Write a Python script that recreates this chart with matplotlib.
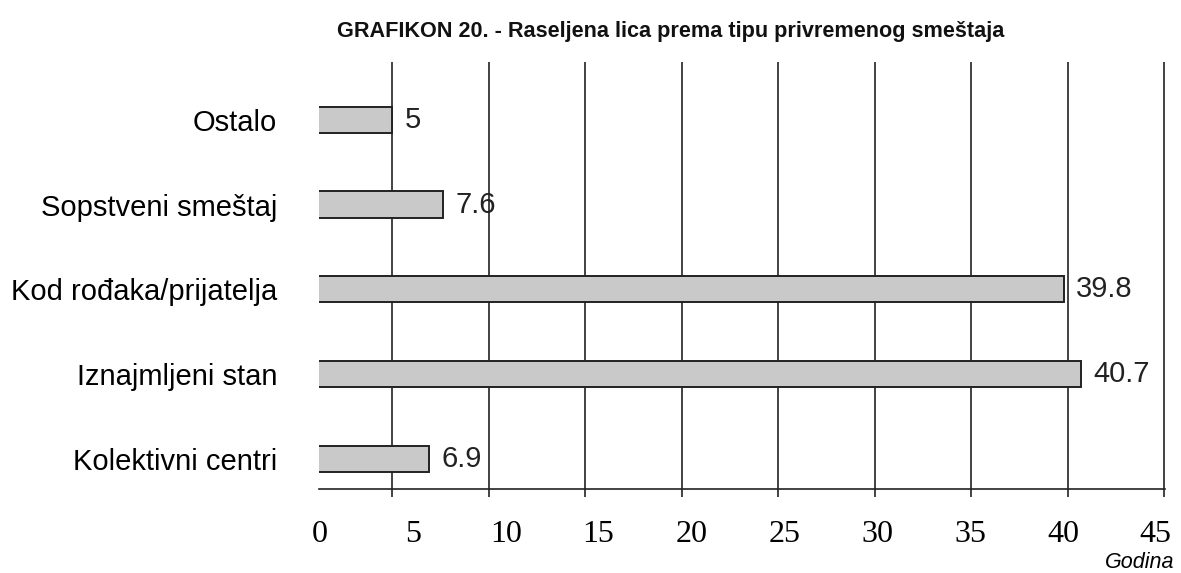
import numpy as np
import matplotlib
matplotlib.use("Agg")
import matplotlib.pyplot as plt

# categories bottom -> top
categories = ["Kolektivni centri", "Iznajmljeni stan", "Kod rođaka/prijatelja",
              "Sopstveni smeštaj", "Ostalo"]
values = [6.9, 40.7, 39.8, 7.6, 5]
value_labels = ["6.9", "40.7", "39.8", "7.6", "5"]
grid_ticks = [5, 10, 15, 20, 25, 30, 35, 40, 45]
axis_labels = [0, 5, 10, 15, 20, 25, 30, 35, 40, 45]

sans = ["Liberation Sans", "DejaVu Sans"]
serif = ["Liberation Serif", "DejaVu Serif"]

fig = plt.figure(figsize=(11.81, 5.73), dpi=100)
ax = fig.add_axes([319/1181, 1-489/573, (1165-319)/1181, (489-62)/573])

y = np.arange(len(categories))
ax.barh(y, values, height=0.31, color="#c9c9c9", edgecolor="#222222", linewidth=1.4,
        zorder=3)
for yi, v, s in zip(y, values, value_labels):
    ax.text(v + 0.65, yi, s, va="center", ha="left", fontsize=21,
            family=sans, color="#222222", zorder=4)

ax.set_xlim(1.19, 45.05)
ax.set_ylim(-0.354, 4.68)
ax.set_xticks(grid_ticks)
ax.set_xticklabels([])
ax.xaxis.grid(True, color="#222222", linewidth=1.2, zorder=1)
ax.tick_params(axis="x", length=6, width=1.2, color="#222222", direction="out")
ax.set_yticks(y)
ax.set_yticklabels(categories, fontsize=21, family=sans)
ax.tick_params(axis="y", length=0, pad=30)
for sp in ["top", "left", "right"]:
    ax.spines[sp].set_visible(False)
ax.spines["bottom"].set_color("#222222")
ax.spines["bottom"].set_linewidth(1.2)

# the scanned scale labels sit slightly off the gridlines
sec = ax.secondary_xaxis("bottom", functions=(lambda x: (x - 1.24) / 0.963,
                                              lambda u: 1.24 + 0.963 * u))
sec.set_xticks(axis_labels)
sec.set_xticklabels([str(a) for a in axis_labels], fontsize=23, family=serif)
sec.tick_params(length=0, pad=22)
sec.spines["bottom"].set_visible(False)

fig.text(671/1181, 1-32/573, "GRAFIKON 20. - Raseljena lica prema tipu privremenog smeštaja",
         ha="center", va="center", fontsize=15.6, fontweight="bold",
         family=["Liberation Sans Narrow", "Liberation Sans", "DejaVu Sans"],
         color="#111111")
fig.text(1174/1181, 1-563/573, "Godina", ha="right", va="center", fontsize=15.5,
         style="italic", family=sans)

fig.savefig("out.png", dpi=100)
